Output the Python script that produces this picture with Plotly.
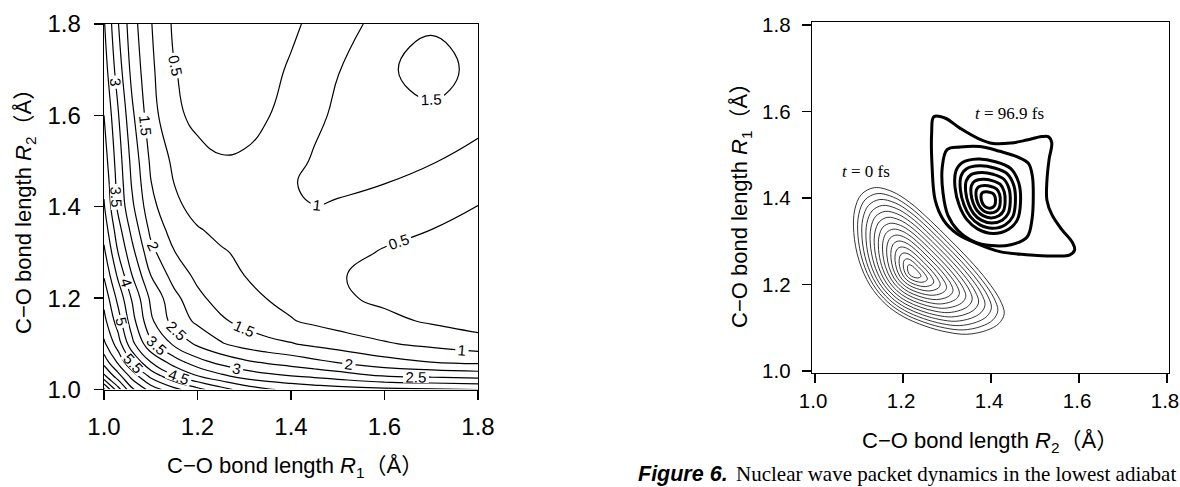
import plotly.graph_objects as go

# ---------------- data: potential energy surface (eV) ----------------
# grid of C-O bond lengths (Å); rows = R2, columns = R1
bond_grid = [1.0, 1.03, 1.06, 1.1, 1.15, 1.2, 1.25, 1.3, 1.35, 1.4, 1.45, 1.5, 1.6, 1.7, 1.8]

energy_rows = [
    [9.60, 8.20, 7.10, 6.30, 5.65, 5.15, 4.70, 4.30, 4.05, 3.90, 3.80, 3.72, 3.62, 3.56, 3.50],  # R2=1.00
    [8.10, 7.20, 6.30, 5.35, 4.55, 4.00, 3.60, 3.30, 3.12, 3.00, 2.88, 2.75, 2.47, 2.38, 2.30],  # 1.03
    [7.30, 6.40, 5.50, 4.50, 3.75, 3.20, 2.85, 2.60, 2.42, 2.28, 2.12, 1.97, 1.68, 1.50, 1.40],  # 1.06
    [6.60, 5.75, 4.65, 3.60, 2.90, 2.40, 2.05, 1.80, 1.64, 1.53, 1.39, 1.27, 1.05, 0.88, 0.72],  # 1.10
    [6.15, 5.25, 4.20, 3.10, 2.30, 1.90, 1.58, 1.35, 1.17, 1.03, 0.91, 0.80, 0.62, 0.44, 0.27],  # 1.15
    [5.85, 4.85, 3.95, 2.90, 2.15, 1.62, 1.30, 1.12, 0.99, 0.87, 0.73, 0.58, 0.40, 0.27, 0.20],  # 1.20
    [5.45, 4.40, 3.50, 2.50, 1.80, 1.38, 1.14, 1.00, 0.89, 0.79, 0.67, 0.53, 0.38, 0.27, 0.20],  # 1.25
    [5.10, 4.00, 3.15, 2.15, 1.52, 1.20, 1.04, 0.93, 0.86, 0.81, 0.73, 0.62, 0.47, 0.35, 0.25],  # 1.30
    [4.80, 3.70, 2.85, 1.88, 1.28, 1.03, 0.90, 0.84, 0.85, 0.87, 0.82, 0.73, 0.60, 0.50, 0.37],  # 1.35
    [4.55, 3.40, 2.60, 1.65, 1.10, 0.85, 0.78, 0.76, 0.82, 0.96, 0.99, 0.93, 0.78, 0.62, 0.49],  # 1.40
    [4.40, 3.33, 2.45, 1.52, 1.00, 0.76, 0.68, 0.68, 0.78, 0.96, 1.10, 1.12, 1.00, 0.82, 0.67],  # 1.45
    [4.25, 3.25, 2.35, 1.42, 0.90, 0.65, 0.53, 0.55, 0.68, 0.85, 1.05, 1.18, 1.25, 1.03, 0.85],  # 1.50
    [4.00, 3.05, 2.10, 1.20, 0.60, 0.38, 0.33, 0.36, 0.48, 0.68, 0.90, 1.08, 1.49, 1.44, 1.15],  # 1.60
    [3.75, 2.75, 1.85, 1.10, 0.52, 0.33, 0.27, 0.28, 0.38, 0.55, 0.75, 0.98, 1.45, 1.62, 1.42],  # 1.70
    [3.55, 2.53, 1.70, 1.03, 0.42, 0.30, 0.25, 0.25, 0.30, 0.42, 0.60, 0.82, 1.15, 1.46, 1.38],  # 1.80
]

level_start = 0.5
level_end = 9.5
level_step = 0.5

tick_values = [1.0, 1.2, 1.4, 1.6, 1.8]
tick_labels = ["1.0", "1.2", "1.4", "1.6", "1.8"]

# ---------------- data: wave packets (x = R2, y = R1, Å) ----------------
# t = 0 fs : outermost contour and peak position, relative size of the nested contours
p0_outer_r2 = [1.135, 1.175, 1.215, 1.262, 1.305, 1.350, 1.392, 1.420, 1.430, 1.418, 1.390,
               1.345, 1.300, 1.250, 1.200, 1.160, 1.125, 1.100, 1.088, 1.090, 1.105]
p0_outer_r1 = [1.424, 1.415, 1.390, 1.348, 1.305, 1.258, 1.208, 1.165, 1.133, 1.110, 1.094,
               1.085, 1.090, 1.104, 1.126, 1.155, 1.198, 1.255, 1.320, 1.372, 1.408]
p0_peak_r2 = 1.222
p0_peak_r1 = 1.228
p0_ring_scales = [1.0, 0.93, 0.86, 0.79, 0.72, 0.65, 0.58, 0.51, 0.44, 0.37, 0.30, 0.23, 0.16, 0.09]

# t = 96.9 fs : three outer contours, peak position, relative size of the inner contours
p1_outer_r2 = [1.270, 1.295, 1.330, 1.370, 1.405, 1.445, 1.481, 1.515, 1.530, 1.538, 1.532, 1.527,
               1.527, 1.538, 1.560, 1.585, 1.590, 1.578, 1.545, 1.480, 1.420, 1.367, 1.322, 1.292,
               1.273, 1.266, 1.265]
p1_outer_r1 = [1.588, 1.585, 1.561, 1.538, 1.526, 1.527, 1.534, 1.542, 1.542, 1.528, 1.490, 1.440,
               1.395, 1.362, 1.328, 1.297, 1.280, 1.268, 1.266, 1.269, 1.276, 1.295, 1.318, 1.349,
               1.395, 1.472, 1.550]
p1_ring2_r2 = [1.300, 1.330, 1.375, 1.420, 1.460, 1.485, 1.494, 1.496, 1.493, 1.482, 1.445, 1.400,
               1.360, 1.325, 1.302, 1.291, 1.289]
p1_ring2_r1 = [1.512, 1.518, 1.519, 1.508, 1.495, 1.480, 1.450, 1.403, 1.350, 1.310, 1.292, 1.290,
               1.300, 1.325, 1.360, 1.410, 1.470]
p1_ring3_r2 = [1.335, 1.370, 1.410, 1.445, 1.463, 1.467, 1.460, 1.440, 1.405, 1.370, 1.345, 1.328,
               1.318, 1.320]
p1_ring3_r1 = [1.482, 1.490, 1.484, 1.468, 1.435, 1.390, 1.350, 1.328, 1.318, 1.328, 1.350, 1.382,
               1.425, 1.462]
p1_peak_r2 = 1.394
p1_peak_r1 = 1.393
p1_inner_scales = [0.84, 0.68, 0.52, 0.37, 0.22]

packet_labels = ["<i>t</i> = 0 fs", "<i>t</i> = 96.9 fs"]
packet_label_r2 = [1.115, 1.443]
packet_label_r1 = [1.461, 1.596]


def ring_path(r2_list, r1_list, peak_r2, peak_r1, scale):
    xs = [peak_r2 + scale * (v - peak_r2) for v in r2_list]
    ys = [peak_r1 + scale * (v - peak_r1) for v in r1_list]
    xs.append(xs[0])
    ys.append(ys[0])
    return xs, ys


def packet_trace(rings, width):
    xs, ys = [], []
    for rx, ry in rings:
        xs += rx + [None]
        ys += ry + [None]
    return go.Scatter(x=xs, y=ys, mode="lines",
                      line=dict(color="black", width=width, shape="spline", smoothing=1.0),
                      hoverinfo="skip", showlegend=False, xaxis="x2", yaxis="y2")


W, H = 1180, 487
SANS = "Liberation Sans, Arial, Noto Sans CJK JP"
SERIF = "Liberation Serif, Times New Roman, serif"

fig = go.Figure()

fig.add_trace(go.Contour(
    x=bond_grid, y=bond_grid, z=energy_rows,
    contours=dict(coloring="none", showlabels=True,
                  start=level_start, end=level_end, size=level_step,
                  labelfont=dict(family=SANS, size=15, color="black")),
    line=dict(color="black", width=1.2, smoothing=1.3),
    showscale=False, hoverinfo="skip", xaxis="x", yaxis="y",
))

rings0 = [ring_path(p0_outer_r2, p0_outer_r1, p0_peak_r2, p0_peak_r1, s) for s in p0_ring_scales]
fig.add_trace(packet_trace(rings0, 0.8))

rings1 = [ring_path(p1_outer_r2, p1_outer_r1, p1_peak_r2, p1_peak_r1, 1.0),
          ring_path(p1_ring2_r2, p1_ring2_r1, p1_peak_r2, p1_peak_r1, 1.0),
          ring_path(p1_ring3_r2, p1_ring3_r1, p1_peak_r2, p1_peak_r1, 1.0)]
rings1 += [ring_path(p1_ring3_r2, p1_ring3_r1, p1_peak_r2, p1_peak_r1, s) for s in p1_inner_scales]
fig.add_trace(packet_trace(rings1, 3.0))


def axis_common(size, standoff, shift=0):
    return dict(tickvals=tick_values, ticktext=tick_labels, ticks="outside", ticklen=9,
                tickwidth=1.3, tickcolor="black", showline=True, linecolor="black",
                linewidth=1.3, mirror=True, showgrid=False, zeroline=False,
                automargin=False,
                tickfont=dict(family=SANS, size=size, color="black"),
                ticklabelstandoff=standoff, ticklabelshift=shift, fixedrange=True)


fig.update_layout(
    template="none",
    width=W, height=H, margin=dict(l=0, r=0, t=0, b=0, pad=0, autoexpand=False),
    paper_bgcolor="white", plot_bgcolor="white", showlegend=False,
    xaxis=dict(domain=[104 / W, 478 / W], range=[1.0, 1.8], anchor="y", **axis_common(24, 6)),
    yaxis=dict(domain=[1 - 389.5 / H, 1 - 24 / H], range=[1.0, 1.8], anchor="x", **axis_common(24, 8)),
    xaxis2=dict(domain=[812 / W, 1169 / W], range=[0.993, 1.8045], anchor="y2",
                **axis_common(20.5, 0, -2)),
    yaxis2=dict(domain=[1 - 373 / H, 1 - 22 / H], range=[0.9954, 1.807], anchor="x2",
                **axis_common(20.5, 7)),
)

ann = []
title_font = dict(family=SANS, size=22, color="black")
ann.append(dict(text="C−O bond length <i>R</i><sub>1</sub>（Å）", x=295 / W, y=1 - 467 / H,
                xref="paper", yref="paper", xanchor="center", yanchor="middle",
                showarrow=False, font=title_font))
ann.append(dict(text="C−O bond length <i>R</i><sub>2</sub>（Å）", x=25 / W, y=1 - 206 / H,
                xref="paper", yref="paper", xanchor="center", yanchor="middle",
                showarrow=False, font=title_font, textangle=-90))
ann.append(dict(text="C−O bond length <i>R</i><sub>2</sub>（Å）", x=990 / W, y=1 - 442 / H,
                xref="paper", yref="paper", xanchor="center", yanchor="middle",
                showarrow=False, font=title_font))
ann.append(dict(text="C−O bond length <i>R</i><sub>1</sub>（Å）", x=741 / W, y=1 - 200 / H,
                xref="paper", yref="paper", xanchor="center", yanchor="middle",
                showarrow=False, font=title_font, textangle=-90))
for txt, xx, yy in zip(packet_labels, packet_label_r2, packet_label_r1):
    ann.append(dict(text=txt, x=xx, y=yy, xref="x2", yref="y2", xanchor="center",
                    yanchor="middle", showarrow=False,
                    font=dict(family=SERIF, size=17, color="black")))
ann.append(dict(text="<b><i>Figure 6.</i></b>", x=636 / W, y=1 - 474 / H, xref="paper",
                yref="paper", xanchor="left", yanchor="middle", showarrow=False,
                font=dict(family="Liberation Sans, Arial", size=21.5, color="black")))
ann.append(dict(text="Nuclear wave packet dynamics in the lowest adiabat", x=734 / W,
                y=1 - 474 / H, xref="paper", yref="paper", xanchor="left", yanchor="middle",
                showarrow=False, font=dict(family=SERIF, size=21, color="black")))
fig.update_layout(annotations=ann)

fig.write_html("out.html", config={"displayModeBar": False, "staticPlot": True},
               post_script="document.body.style.margin='0px';"
                           "document.body.style.overflow='hidden';")
